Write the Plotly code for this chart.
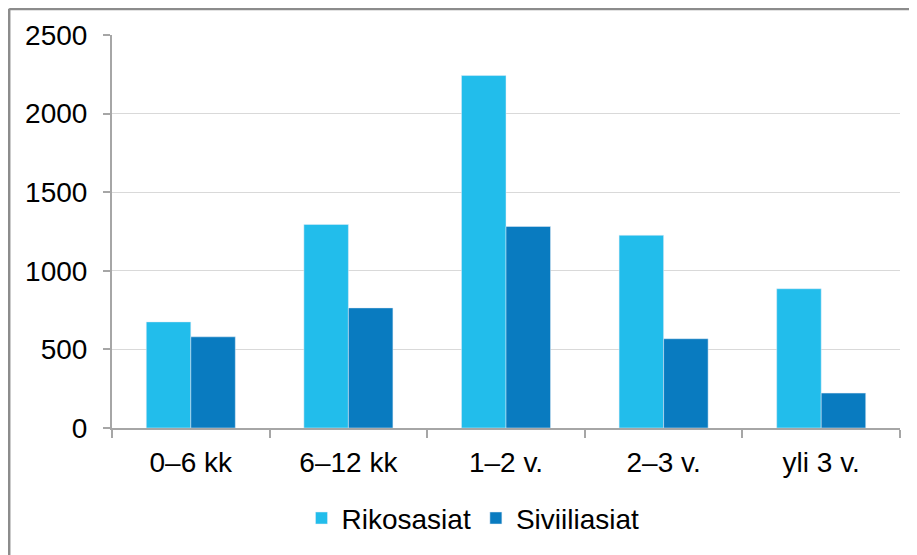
import plotly.graph_objects as go

categories = ["0\u20136 kk", "6\u201312 kk", "1\u20132 v.", "2\u20133 v.", "yli 3 v."]
rikosasiat = [675, 1295, 2242, 1226, 886]
siviiliasiat = [580, 764, 1282, 568, 222]
series_names = ["Rikosasiat", "Siviiliasiat"]
colors = ["#22BDEB", "#097BC0"]

# page body has an 8px margin, so the figure is a bit smaller than the window
W, H = 909, 547
L, T = 104, 27
pw, ph = 788, 396
R = W - L - pw
B = H - T - ph

fig = go.Figure()
fig.add_trace(go.Bar(x=categories, y=rikosasiat, name=series_names[0], marker_color=colors[0]))
fig.add_trace(go.Bar(x=categories, y=siviiliasiat, name=series_names[1], marker_color=colors[1]))

font_family = "Liberation Sans, Arial, sans-serif"
fig.update_layout(
    width=W, height=H,
    margin=dict(l=L, r=R, t=T, b=B),
    paper_bgcolor="white", plot_bgcolor="white",
    barmode="group", bargap=0.435, bargroupgap=0,
    font=dict(family=font_family, size=28, color="black"),
    showlegend=True,
    legend=dict(orientation="h", x=(465 - L) / pw, xanchor="center",
                y=-91 / ph, yanchor="middle",
                font=dict(size=28), itemwidth=30, tracegroupgap=0,
                bgcolor="rgba(0,0,0,0)"),
    xaxis=dict(showline=True, linecolor="#A6A6A6", linewidth=2,
               ticks="outside", tickson="boundaries", ticklen=8, tickcolor="#A6A6A6", tickwidth=2,
               showgrid=False, tickfont=dict(size=28), ticklabelstandoff=8),
    yaxis=dict(range=[0, 2500], dtick=500, showline=True, linecolor="#A6A6A6", linewidth=2,
               ticks="outside", ticklen=7, tickcolor="#A6A6A6", tickwidth=2,
               showgrid=True, gridcolor="#D9D9D9", gridwidth=1,
               tickfont=dict(size=28), ticklabelstandoff=10, zeroline=False),
    shapes=[
        dict(type="line", xref="paper", yref="paper",
             x0=(1.2 - L) / pw, x1=(1.2 - L) / pw, y0=(T + ph - 0.5) / ph, y1=-0.5,
             line=dict(color="#8C8C8C", width=2.5)),
        dict(type="line", xref="paper", yref="paper",
             x0=(1.2 - L) / pw, x1=1.1, y0=(T + ph - 0.8) / ph, y1=(T + ph - 0.8) / ph,
             line=dict(color="#8C8C8C", width=2.5)),
    ],
)

fig.write_html("out.html")
